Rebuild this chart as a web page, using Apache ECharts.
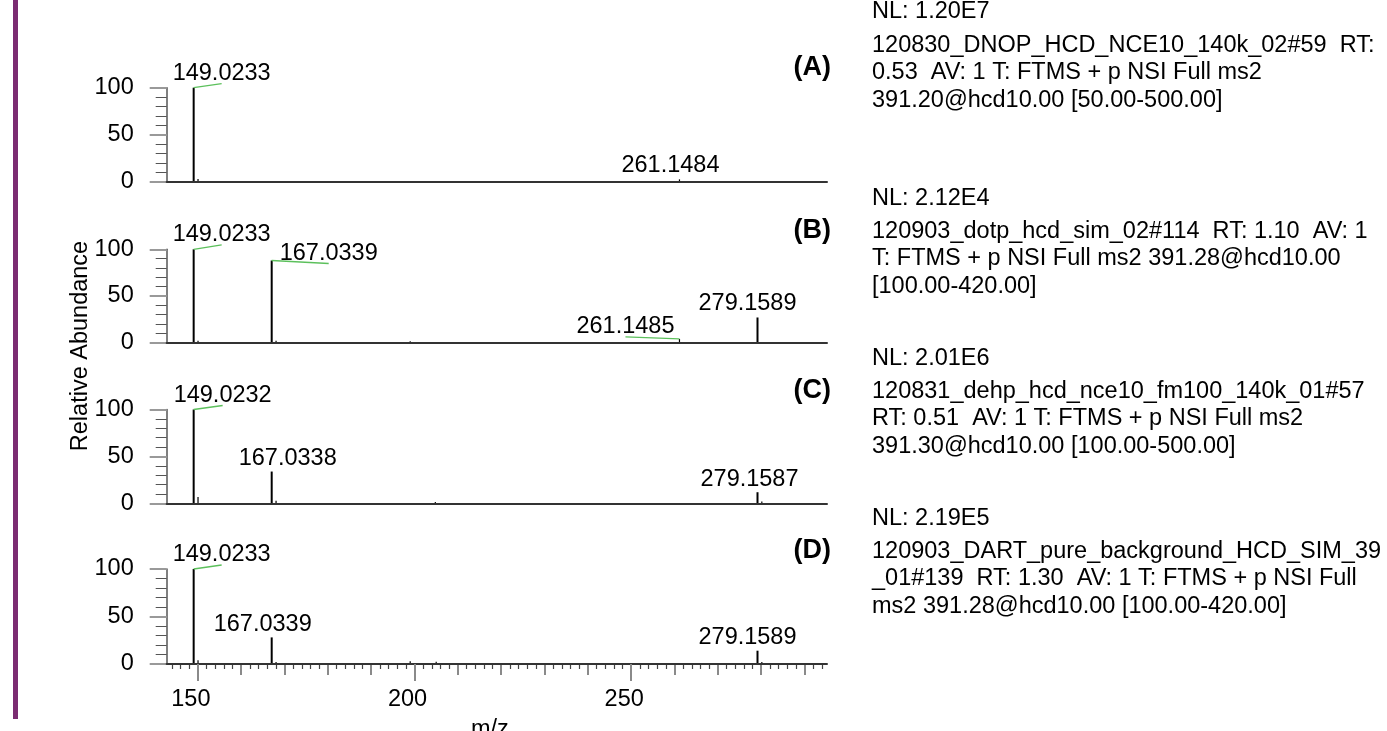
<!DOCTYPE html>
<html><head><meta charset="utf-8">
<script src="https://cdn.jsdelivr.net/npm/echarts@6/dist/echarts.min.js"></script>
<style>html,body{margin:0;padding:0;background:#fff}#c{width:1387px;height:731px}</style>
</head><body><div id="c"></div><script>
// ---------------- DATA ----------------
const panelNames = ['(A)', '(B)', '(C)', '(D)'];

const mzA  = [149.0233, 150.03, 261.1484];
const intA = [100, 3, 2.5];

const mzB  = [149.0233, 150.03, 167.0339, 168.04, 199.0, 261.1485, 279.1589];
const intB = [100, 2, 88, 2, 1.5, 4, 27];

const mzC  = [149.0232, 150.03, 167.0338, 168.04, 204.8, 279.1587, 280.16];
const intC = [100, 7, 34, 3, 1.5, 12, 2];

const mzD  = [149.0233, 150.03, 167.0339, 168.04, 199.0, 205.0, 279.1589, 280.16];
const intD = [100, 4, 28, 2, 3, 2.5, 14, 2];

// peaks that carry an m/z label
const labeledA = [149.0233, 261.1484];
const labeledB = [149.0233, 167.0339, 261.1485, 279.1589];
const labeledC = [149.0232, 167.0338, 279.1587];
const labeledD = [149.0233, 167.0339, 279.1589];

const xTickLabels = [150, 200, 250];
const yTickLabels = [0, 50, 100];

const nlText = ['NL: 1.20E7', 'NL: 2.12E4', 'NL: 2.01E6', 'NL: 2.19E5'];
const scanText = [
  '120830_DNOP_HCD_NCE10_140k_02#59  RT:\n0.53  AV: 1 T: FTMS + p NSI Full ms2\n391.20@hcd10.00 [50.00-500.00]',
  '120903_dotp_hcd_sim_02#114  RT: 1.10  AV: 1\nT: FTMS + p NSI Full ms2 391.28@hcd10.00\n[100.00-420.00]',
  '120831_dehp_hcd_nce10_fm100_140k_01#57\nRT: 0.51  AV: 1 T: FTMS + p NSI Full ms2\n391.30@hcd10.00 [100.00-500.00]',
  '120903_DART_pure_background_HCD_SIM_39\n_01#139  RT: 1.30  AV: 1 T: FTMS + p NSI Full\nms2 391.28@hcd10.00 [100.00-420.00]'
];
const yAxisTitle = 'Relative Abundance';
const xAxisTitle = 'm/z';

// ---------------- LAYOUT / STYLE ----------------
const FS = 23.5;
const FONT = FS + 'px "Liberation Sans", Arial, sans-serif';
const X_MIN = 142.8, X_MAX = 295.2;
const GRID_LEFT = 166.7, GRID_W = 660.3;
const gridTops = [87.7, 249.3, 409.5, 569];
const gridHeights = [94, 93.4, 94, 95];
// per label layout: horizontal shift, lift above peak, leader line
const labelLayout = [
  [{dx: 28, lift: 7, lead: true}, {dx: -9, lift: 7}],
  [{dx: 28, lift: 7.5, lead: true}, {dx: 57, lift: 0, lead: true}, {dx: -54, lift: 5, lead: true}, {dx: -10, lift: 6.5}],
  [{dx: 29, lift: 7, lead: true}, {dx: 16, lift: 6}, {dx: -8, lift: 6}],
  [{dx: 28, lift: 7, lead: true}, {dx: -9, lift: 6}, {dx: -10, lift: 6}]
];
const nlY = [12, 198.5, 358.5, 518.5];
const scanTopY = [31.5, 217.5, 377.5, 537.5];
const letterY = [68, 231, 391, 551];

const panels = [
  {mz: mzA, it: intA, lab: labeledA},
  {mz: mzB, it: intB, lab: labeledB},
  {mz: mzC, it: intC, lab: labeledC},
  {mz: mzD, it: intD, lab: labeledD}
];

const grid = [], xAxis = [], yAxis = [], series = [];
panels.forEach((p, i) => {
  grid.push({left: GRID_LEFT, top: gridTops[i], width: GRID_W, height: gridHeights[i],
             containLabel: false, outerBoundsMode: 'none'});
  const last = i === panels.length - 1;
  xAxis.push({
    type: 'value', gridIndex: i, min: X_MIN, max: X_MAX, position: 'bottom',
    axisLine: {show: true, onZero: false, lineStyle: {color: '#333', width: 2}},
    axisTick: last ? {show: true, customValues: xTickLabels, length: 17, lineStyle: {color: '#8a8a8a', width: 2}} : {show: false},
    axisLabel: last ? {show: true, customValues: xTickLabels, color: '#000', fontSize: FS, fontFamily: 'Liberation Sans', margin: 24, padding: [0, 14, 0, 0]} : {show: false},
    splitLine: {show: false},
    name: last ? xAxisTitle : '', nameLocation: 'middle', nameGap: 54,
    nameTextStyle: {color: '#000', fontSize: FS, fontFamily: 'Liberation Sans', padding: [0, 14, 0, 0]},
    z: 5
  });
  yAxis.push({
    type: 'value', gridIndex: i, min: 0, max: 100, interval: 50,
    axisLine: {show: true, lineStyle: {color: '#555', width: 1.5}},
    axisTick: {show: true, length: 17, lineStyle: {color: '#999', width: 2}},
    minorTick: {show: true, splitNumber: 5, length: 11, lineStyle: {color: '#555', width: 1}},
    axisLabel: {color: '#000', fontSize: FS, fontFamily: 'Liberation Sans', margin: 33},
    splitLine: {show: false}, minorSplitLine: {show: false}
  });
  const data = p.mz.map((m, k) => [m, p.it[k]]);
  const layouts = labelLayout[i];
  series.push({
    type: 'custom', xAxisIndex: i, yAxisIndex: i, clip: false, z: 3,
    data: data,
    renderItem: function (params, api) {
      const m = api.value(0), h = api.value(1);
      const b = api.coord([m, 0]);
      const t = api.coord([m, h]);
      const children = [{
        type: 'line',
        shape: {x1: b[0], y1: b[1], x2: t[0], y2: t[1]},
        style: {stroke: '#000', lineWidth: h > 8 ? 2 : 1.2}
      }];
      const li = p.lab.indexOf(m);
      if (li >= 0) {
        const L = layouts[li];
        const cx = t[0] + L.dx;
        const digitBottom = t[1] - L.lift;
        children.push({
          type: 'text',
          style: {text: m.toFixed(4), x: cx, y: digitBottom - 7, align: 'center', verticalAlign: 'middle',
                  font: FONT, fill: '#000'}
        });
        if (L.lead) {
          children.push({
            type: 'line',
            shape: {x1: t[0], y1: t[1], x2: cx, y2: digitBottom + 3},
            style: {stroke: '#5cc05c', lineWidth: 1.3}
          });
        }
      }
      return {type: 'group', children: children};
    }
  });
});

// extra tick axes on the bottom panel (10-unit and 2-unit ticks)
const mediumTicks = [], minorTicksArr = [];
for (let v = 144; v <= 294; v += 2) {
  if (v % 10 === 0) mediumTicks.push(v); else minorTicksArr.push(v);
}
[[mediumTicks, 11, '#8a8a8a', 2], [minorTicksArr, 5, '#444', 1.2]].forEach(([vals, len, col, w]) => {
  xAxis.push({
    type: 'value', gridIndex: 3, min: X_MIN, max: X_MAX, position: 'bottom',
    axisLine: {show: false},
    axisTick: {show: true, customValues: vals, length: len, lineStyle: {color: col, width: w}},
    axisLabel: {show: false}, splitLine: {show: false}
  });
});

const graphic = [
  {type: 'rect', left: 13, top: 0, shape: {x: 0, y: 0, width: 5, height: 719}, style: {fill: '#7b2c72'}},
  {type: 'text', x: 81, y: 346, rotation: Math.PI / 2,
   style: {text: yAxisTitle, font: FONT, fill: '#000', align: 'center', verticalAlign: 'middle'}}
];
panelNames.forEach((n, i) => {
  graphic.push({type: 'text', x: 831, y: letterY[i],
    style: {text: n, font: 'bold 27px "Liberation Sans", Arial, sans-serif', fill: '#000', align: 'right', verticalAlign: 'middle'}});
  graphic.push({type: 'text', x: 872, y: nlY[i],
    style: {text: nlText[i], font: FONT, fill: '#000', align: 'left', verticalAlign: 'middle'}});
  graphic.push({type: 'text', x: 872, y: scanTopY[i],
    style: {text: scanText[i], font: FONT, lineHeight: 27.5, fill: '#000', align: 'left', verticalAlign: 'top'}});
});

const chart = echarts.init(document.getElementById('c'), null, {renderer: 'canvas'});
chart.setOption({
  animation: false,
  backgroundColor: '#fff',
  grid: grid, xAxis: xAxis, yAxis: yAxis, series: series, graphic: graphic
});
</script></body></html>
